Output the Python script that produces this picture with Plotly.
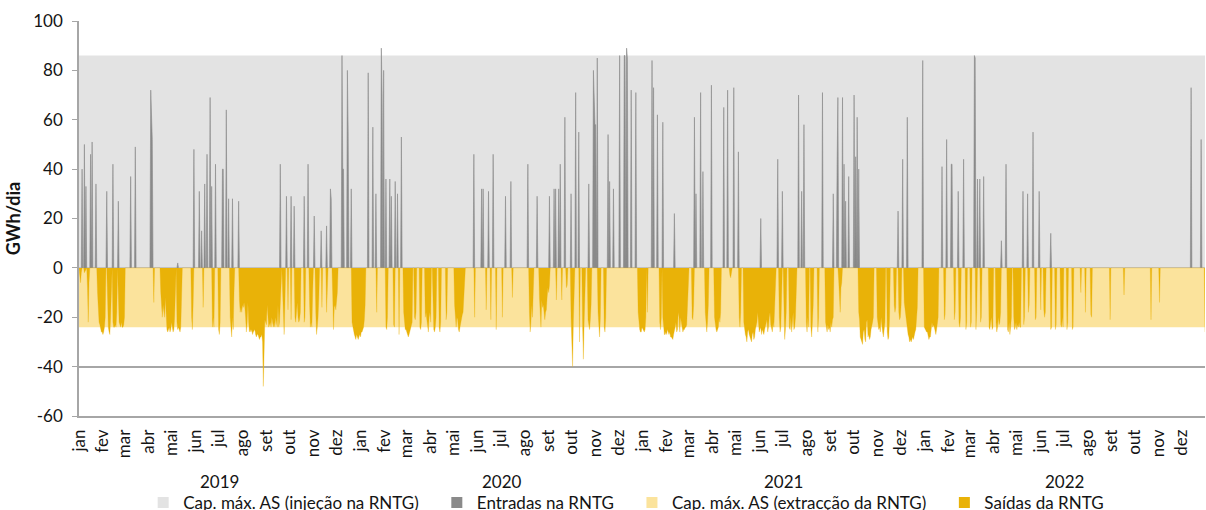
import numpy as np
import pandas as pd
import plotly.graph_objects as go

START = "2019-01-01"
END = "2022-12-31"

# Storage capacity limits (GWh/dia)
cap_inj_dates = [START, END]
cap_inj_vals = [86, 86]
cap_ext_dates = [START, END]
cap_ext_vals = [-24, -24]

# Entradas na RNTG: day number counted from 2019-01-01, value GWh/dia
entry_day = [4, 7, 9, 15, 17, 22, 36, 44, 51, 67, 73, 93, 94, 95, 128, 149, 156, 159, 163, 166,
             170, 172, 177, 186, 187, 191, 194, 199, 207,
             261, 269, 275, 279, 292, 297, 305, 314, 321, 326, 327, 341, 342, 343, 348, 349, 353,
             375, 381, 385, 392, 393, 395, 398, 403, 405, 410, 413, 418,
             512, 522, 524, 531, 537, 553, 560, 582, 594, 610, 616, 618, 622, 624, 630, 638, 644,
             648, 661, 667, 668, 669, 670, 672, 686, 688, 693, 701, 707, 708, 710, 711, 716, 722,
             743, 745, 750, 757, 772, 798, 800, 806, 809, 820, 836, 841, 849, 855, 884, 906, 912,
             933, 937, 940, 964,
             978, 983, 984, 990, 992, 994, 998, 1005, 1007, 1009, 1011, 1062, 1068, 1074, 1094,
             1119, 1125, 1131, 1132, 1140, 1147, 1161, 1162, 1165, 1168, 1173, 1196, 1202,
             1224, 1230, 1237, 1245, 1260, 1442, 1455]
entry_val = [40, 50, 33, 46, 51, 34, 31, 42, 27, 37, 49, 72, 55, 52, 2, 48, 31, 15, 34, 46,
             69, 33, 42, 40, 40, 64, 28, 28, 27,
             42, 29, 29, 25, 29, 42, 21, 15, 17, 32, 28, 86, 40, 40, 80, 55, 32,
             79, 57, 30, 89, 70, 80, 36, 36, 29, 35, 30, 53,
             46, 32, 32, 31, 46, 29, 35, 42, 29, 29, 32, 32, 32, 42, 61, 30, 71,
             55, 34, 80, 60, 58, 58, 85, 54, 35, 32, 86, 86, 86, 89, 85, 72, 71,
             84, 73, 62, 59, 22, 61, 30, 71, 39, 74, 65, 72, 73, 47, 20, 44, 31,
             70, 31, 58, 71,
             30, 42, 69, 69, 42, 27, 37, 70, 45, 61, 40, 23, 44, 61, 84,
             41, 52, 42, 42, 31, 44, 86, 85, 36, 36, 37, 11, 42,
             31, 30, 55, 31, 14, 73, 52]

# Saídas da RNTG: runs of consecutive days (start day from 2019-01-01, daily values)
exit_run_start = [1, 7, 11, 24, 37, 44, 51, 97, 106, 127, 146, 161, 173, 181, 196, 208,
                  264, 271, 275, 280, 292, 299, 307, 315, 321, 329, 354, 386, 398, 408, 415,
                  421, 435, 442, 449, 459, 467, 476,
                  487, 513, 528, 534, 541, 549, 562, 584, 597, 619, 626, 632, 638, 649, 653,
                  660, 673, 681, 725, 737, 753, 757, 795, 812, 824, 844, 856, 862, 908, 914,
                  921, 943, 949, 958, 968, 985, 1011, 1035, 1048, 1057, 1063, 1070, 1096,
                  1122, 1135, 1141, 1150, 1156, 1163, 1169, 1180, 1189, 1204, 1212, 1221,
                  1225, 1231, 1240, 1247, 1251, 1260, 1266, 1273, 1281, 1288, 1299, 1305,
                  1312, 1337, 1355, 1390, 1401, 1460]
exit_run_vals = [
    [-3, -6, -2], [-2, -1], [-8, -22, -6],
    [-10, -21, -22, -23, -25, -26, -26, -27, -26, -24, -20],
    [-15, -24, -26, -27, -20, -5],
    [-22, -24, -24, -23, -24, -18],
    [-20, -22, -23, -24, -22, -24, -24, -23, -20],
    [-14],
    [-10, -16, -20, -15, -18, -20, -12, -20, -25, -26, -25, -24, -26, -25, -22, -24, -26, -25, -20, -10],
    [-22, -25, -24, -25, -26, -24, -15],
    [-20, -25, -15], [-16], [-24, -20, -24], [-25, -27, -22],
    [-20, -27, -28, -20, -25, -10],
    [-13, -18, -16, -18, -15, -16, -14, -16, -20, -26,
     -22, -14, -22, -26, -25, -26, -25, -27, -26, -25,
     -25, -27, -28, -27, -27, -28, -29, -28, -28, -27,
     -30, -48, -27, -21, -22, -23, -15, -22, -24, -23,
     -22, -24, -20, -22, -24, -22, -24, -20, -23, -24,
     -15, -24, -22, -12, -5],
    [-10, -20, -27, -15], [-17], [-21],
    [-20, -22, -18, -14, -20, -22, -21, -18],
    [-22, -20], [-15, -24, -22, -24, -10], [-18, -27, -24, -20, -12],
    [-16], [-18, -10], [-12, -25, -16, -15, -17, -14, -10],
    [-22, -24, -25, -27, -28, -29, -27, -28, -29, -28, -27, -28, -26, -26, -25, -24, -21, -15],
    [-18], [-24, -25, -20], [-23, -24], [-27],
    [-18, -24, -25, -25, -26, -28, -28, -27, -26, -25, -24, -22],
    [-20, -21, -18], [-24, -25, -22],
    [-20, -18, -21, -24, -26, -20, -18, -22],
    [-23, -25, -26, -24, -20], [-24, -26, -22], [-21, -18],
    [-15, -22, -24, -20, -21, -25, -26, -24, -22, -21, -19, -18, -12, -8],
    [-20], [-17], [-21], [-25], [-20], [-12],
    [-18, -26, -22, -15, -20, -12],
    [-12, -23, -24, -13, -16, -15, -20, -21, -18, -17, -12, -8, -10, -7],
    [-13], [-13], [-8, -7],
    [-20, -28, -40, -22, -10], [-30], [-24, -37, -22, -10],
    [-21, -24, -25, -21, -15], [-18, -25, -28, -20], [-24, -26, -20],
    [-18, -24, -25, -26, -26, -24, -25, -26, -26, -25, -20],
    [-18], [-22, -25, -20],
    [-20, -25, -27, -27, -26, -27, -25, -26, -27, -26,
     -28, -28, -29, -29, -27, -26, -24, -22, -26, -25,
     -18, -20, -26, -20, -22, -24, -26, -25, -25, -24,
     -24, -23, -15, -13],
    [-20, -21, -15], [-18, -25, -26, -22, -15],
    [-20, -24, -25, -26, -25, -24, -20, -22, -18],
    [-3, -4, -2], [-20, -24, -18],
    [-22, -26, -27, -28, -30, -26, -25, -27, -28, -29,
     -30, -27, -26, -29, -28, -25, -23, -22, -18, -24,
     -26, -25, -24, -27, -25, -26, -27, -25, -24, -23,
     -21, -26, -24, -20, -18, -23, -25, -26, -22, -24,
     -16, -8],
    [-20, -26, -24, -15], [-22, -29, -25, -18],
    [-24, -25, -20, -26, -22, -18, -25, -24, -20, -12],
    [-22, -26, -20, -24], [-24, -28, -22, -15], [-26, -20],
    [-22, -24, -26, -23, -25, -24, -26, -22, -24, -21, -20],
    [-5, -10, -18, -8, -6],
    [-18, -21, -28, -29, -30, -31, -26, -25, -29, -30, -22, -21, -28, -27, -29, -28, -25, -24, -22, -20],
    [-20, -24, -25, -24, -26, -20, -24, -26, -28, -25, -22],
    [-26, -29, -28, -20], [-15, -18, -16], [-18, -21, -20, -15],
    [-14, -17, -20, -21, -24, -27, -28, -30, -29, -30, -29, -28, -29, -27, -26, -25, -21, -16],
    [-24, -25, -25, -26, -26, -28, -29, -28, -28, -25, -22, -24, -23, -24, -26, -27, -25, -22, -20],
    [-21, -19], [-21, -18], [-22, -24, -20], [-25, -22], [-24, -22], [-25, -18], [-22, -20],
    [-24, -25, -22, -20, -25, -24],
    [-22, -26, -24, -20, -23, -22, -18],
    [-25, -26, -22, -27, -24, -20],
    [-20, -25, -24, -22, -25, -23, -24, -22, -24],
    [-24], [-23, -20], [-18, -15], [-21, -20], [-17], [-17, -20, -18], [-25, -24], [-25, -23],
    [-23, -24, -20, -24], [-25, -22], [-25, -24], [-10], [-18], [-19, -20], [-21], [-11],
    [-21], [-14], [-26],
]

month_names = ["jan", "fev", "mar", "abr", "mai", "jun", "jul", "ago", "set", "out", "nov", "dez"]
years = [2019, 2020, 2021, 2022]
y_ticks = [-60, -40, -20, 0, 20, 40, 60, 80, 100]

names = ["Cap. máx. AS (injeção na RNTG)", "Entradas na RNTG",
         "Cap. máx. AS (extracção da RNTG)", "Saídas da RNTG"]
colors = ["#E3E3E3", "#8A8A8A", "#FBE39C", "#E9B208"]
line_w = [0, 0.6, 0, 0.3]

# ---- build daily series ----
days = pd.date_range(START, END, freq="D")
entries = np.zeros(len(days))
entries[np.array(entry_day)] = entry_val
exits = np.zeros(len(days))
for s, vals in zip(exit_run_start, exit_run_vals):
    exits[s:s + len(vals)] = vals

FONT = "Lato, 'Open Sans', sans-serif"
TXT = "#141414"

fig = go.Figure()
series = [
    (cap_inj_dates, cap_inj_vals),
    (days, entries),
    (cap_ext_dates, cap_ext_vals),
    (days, exits),
]
for (xv, yv), nm, col, lw in zip(series, names, colors, line_w):
    fig.add_trace(go.Scatter(x=xv, y=yv, mode="lines", fill="tozeroy", fillcolor=col,
                             line=dict(width=lw, color=col), name=nm, showlegend=False,
                             hoverinfo="skip"))
pad = "\u00a0" * 3
for nm, col in zip(names, colors):
    fig.add_trace(go.Scatter(x=[None], y=[None], mode="markers", name=nm + pad,
                             marker=dict(symbol="square", size=11, color=col)))

tickvals = pd.date_range(START, "2022-12-01", freq="MS")
ticktext = [month_names[d.month - 1] for d in tickvals]

for y in years:
    fig.add_annotation(x=f"{y}-07-02", y=-0.166, xref="x", yref="paper", text=str(y),
                       showarrow=False, font=dict(size=17, color=TXT, family=FONT),
                       yanchor="middle")

fig.update_layout(
    width=1206, height=510,
    margin=dict(l=79, r=1, t=21, b=94, autoexpand=False),
    paper_bgcolor="white", plot_bgcolor="white",
    font=dict(family=FONT, size=17, color=TXT),
    showlegend=True,
    legend=dict(orientation="h", x=0.057, xanchor="left", y=-0.22, yanchor="middle",
                font=dict(size=17, family=FONT, color=TXT), itemwidth=30,
                bgcolor="rgba(0,0,0,0)"),
    xaxis=dict(type="date", range=[START, END], tickmode="array", tickvals=tickvals,
               ticktext=ticktext, tickangle=-90, showgrid=False, showline=True,
               linecolor="#A6A6A6", linewidth=1.5, ticks="", ticklabelstandoff=5,
               tickfont=dict(size=17, family=FONT, color=TXT), zeroline=False),
    yaxis=dict(range=[-60, 100], tickmode="array", tickvals=y_ticks,
               ticktext=[str(v) for v in y_ticks], showgrid=True, gridcolor="#A6A6A6",
               gridwidth=1.5, zeroline=False, showline=True, linecolor="#A6A6A6",
               linewidth=1.5, ticks="outside", ticklen=5, tickcolor="#A6A6A6",
               ticklabelstandoff=6,
               tickfont=dict(size=17, family=FONT, color=TXT),
               title=dict(text="<b>GWh/dia</b>", standoff=8,
                          font=dict(size=18, family=FONT, color=TXT))),
)

fig.write_html("out.html")
